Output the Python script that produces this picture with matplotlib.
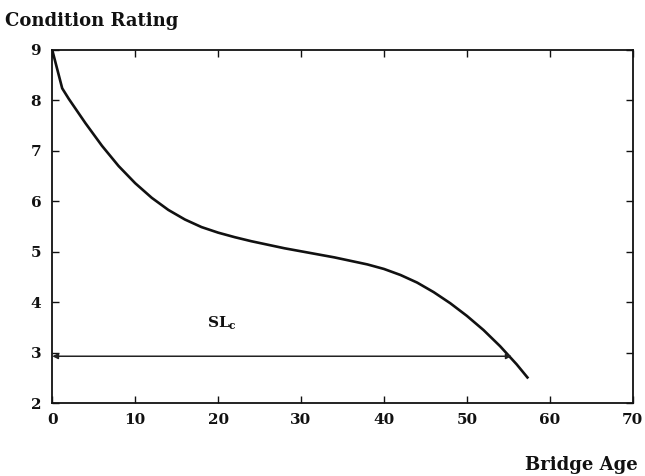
import numpy as np
import matplotlib.pyplot as plt

# ---------- data ----------
age = [0, 1.2, 2, 4, 6, 8, 10, 12, 14, 16, 18, 20, 22, 24, 26, 28, 30,
       32, 34, 36, 38, 40, 42, 44, 46, 48, 50, 52, 54, 56, 57.3]
rating = [9.0, 8.24, 8.03, 7.55, 7.10, 6.70, 6.36, 6.07, 5.83, 5.64, 5.49,
          5.38, 5.29, 5.21, 5.14, 5.07, 5.01, 4.95, 4.89, 4.82, 4.75, 4.66,
          4.54, 4.39, 4.20, 3.98, 3.73, 3.45, 3.13, 2.77, 2.51]
sl_start, sl_end, sl_level = 0.0, 55.4, 2.93
x_ticks = [0, 10, 20, 30, 40, 50, 60, 70]
y_ticks = [2, 3, 4, 5, 6, 7, 8, 9]

plt.rcParams["font.family"] = ["DejaVu Serif"]
plt.rcParams["font.weight"] = "bold"
plt.rcParams["mathtext.fontset"] = "dejavuserif"

fig = plt.figure(figsize=(6.45, 4.76), dpi=100)
ax = fig.add_axes([0.081, 0.153, 0.900, 0.742])

ax.plot(age, rating, color="#111111", lw=1.9, solid_joinstyle="round")

# service life arrow
ax.annotate("", xy=(sl_end, sl_level), xytext=(sl_start, sl_level),
            arrowprops=dict(arrowstyle="<|-|>", color="#222222", lw=1.1,
                            mutation_scale=8, shrinkA=0, shrinkB=0))
ax.text(18.7, 3.58, r"$\mathbf{SL_c}$", fontsize=11,
        ha="left", va="center", color="#111111")

ax.set_xlim(0, 70)
ax.set_ylim(2, 9)
ax.set_xticks(x_ticks)
ax.set_yticks(y_ticks)
ax.tick_params(direction="in", length=5, width=1.0, top=True, right=True,
               labelsize=11, colors="#111111")
ax.tick_params(axis="y", pad=8)
ax.tick_params(axis="x", pad=7)
for lab in ax.get_xticklabels() + ax.get_yticklabels():
    lab.set_fontweight("bold")
for sp in ax.spines.values():
    sp.set_linewidth(1.3)
    sp.set_color("#111111")

fig.text(0.008, 0.956, "Condition Rating", fontsize=13, fontweight="bold",
         ha="left", va="center", color="#111111")
fig.text(0.988, 0.023, "Bridge Age", fontsize=13, fontweight="bold",
         ha="right", va="center", color="#111111")

fig.savefig("out.png", dpi=100, facecolor="white")
